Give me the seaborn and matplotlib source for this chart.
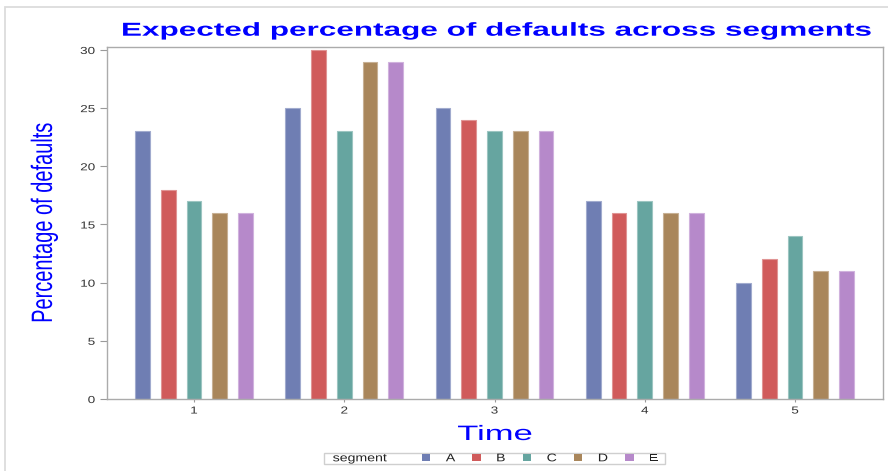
import matplotlib
matplotlib.use("Agg")
import matplotlib.pyplot as plt
import numpy as np
import pandas as pd
import seaborn as sns
from matplotlib.patheffects import AbstractPathEffect
from matplotlib.transforms import Affine2D
from matplotlib.offsetbox import HPacker, DrawingArea
from matplotlib.patches import Rectangle
from matplotlib.colors import to_rgb

# ---- data -------------------------------------------------------------
time_points = ["1", "2", "3", "4", "5"]
segments = ["A", "B", "C", "D", "E"]
seg_a = [23, 25, 25, 17, 10]
seg_b = [18, 30, 24, 16, 12]
seg_c = [17, 23, 23, 17, 14]
seg_d = [16, 29, 23, 16, 11]
seg_e = [16, 29, 23, 16, 11]
segment_colors = ["#6F7EB3", "#D05B5B", "#66A5A0", "#A9865B", "#B689CA"]
y_ticks = [0, 5, 10, 15, 20, 25, 30]

df = pd.DataFrame({
    "Time": np.tile(time_points, len(segments)),
    "segment": np.repeat(segments, len(time_points)),
    "pct": seg_a + seg_b + seg_c + seg_d + seg_e,
})


class HStretch(AbstractPathEffect):
    """Draw text widened/narrowed horizontally about an anchor."""

    def __init__(self, factor, anchor="center"):
        super().__init__()
        self.factor = factor
        self.anchor = anchor

    def draw_path(self, renderer, gc, tpath, affine, rgbFace=None):
        ext = tpath.get_extents(affine)
        if self.anchor == "left":
            x0 = ext.x0
        elif self.anchor == "right":
            x0 = ext.x1
        else:
            x0 = 0.5 * (ext.x0 + ext.x1)
        widen = Affine2D().translate(-x0, 0).scale(self.factor, 1).translate(x0, 0)
        renderer.draw_path(gc, tpath, affine + widen, rgbFace)


plt.rcParams["font.family"] = ["Liberation Sans", "DejaVu Sans"]

W, H = 888, 471
fig = plt.figure(figsize=(W / 100, H / 100), dpi=100)
ax = fig.add_axes([107 / W, 1 - 399 / H, 775.5 / W, 352.3 / H])

sns.barplot(data=df, x="Time", y="pct", hue="segment", order=time_points,
            hue_order=segments, palette=segment_colors, saturation=1,
            width=0.857, gap=0.43, errorbar=None, linewidth=0.8, ax=ax)

for bar in ax.patches:
    fc = np.array(to_rgb(bar.get_facecolor()))
    bar.set_edgecolor(tuple(fc + (1 - fc) * 0.35))

ax.set_xlim(-0.579, 4.582)
ax.set_ylim(0, 30.28)
ax.set_yticks(y_ticks)

for side in ["left", "right", "top", "bottom"]:
    ax.spines[side].set_color("#ABABAB")
    ax.spines[side].set_linewidth(1.0)

ax.tick_params(axis="y", length=5, width=0.8, color="#9A9A9A", pad=3.6,
               labelsize=7.3, labelcolor="#333333")
ax.tick_params(axis="x", length=2.5, width=0.8, color="#9A9A9A", pad=2.2,
               labelsize=7.3, labelcolor="#333333")
for lab in ax.get_yticklabels():
    lab.set_path_effects([HStretch(1.33, "right")])
for lab in ax.get_xticklabels():
    lab.set_path_effects([HStretch(1.33, "center")])

# axis titles
ax.set_xlabel("Time", fontsize=15, color="#0000FF")
ax.xaxis.label.set_va("baseline")
ax.xaxis.set_label_coords(0.5003, -41 / 352.3)
ax.xaxis.label.set_path_effects([HStretch(1.66, "center")])

ax.set_ylabel("Percentage of defaults", fontsize=14.4, color="#0000FF")
ylab = ax.yaxis.label
ylab.set_rotation_mode("default")
ylab.set_ha("center")
ylab.set_va("center")
ax.yaxis.set_label_coords((44 - 107) / 775.5, 0.5)
ylab.set_path_effects([HStretch(1.47, "center")])

title = ax.set_title("Expected percentage of defaults across segments",
                     fontsize=13.5, fontweight="bold", color="#0000FF",
                     x=(496 - 107) / 775.5, y=1 + 11 / 352.3, pad=0,
                     va="baseline")
title.set_path_effects([HStretch(1.68, "center")])

# legend strip along the bottom
leg0 = ax.get_legend()
handles = leg0.legend_handles
labels = [t.get_text() for t in leg0.get_texts()]
leg0.remove()

px = 0.72  # pixels -> points at 100 dpi
leg = fig.legend(handles, labels, ncol=5, loc="center",
                 bbox_to_anchor=(494.5 / W, 1 - 458.3 / H), fontsize=8,
                 frameon=True, fancybox=False, edgecolor="#CFCFCF",
                 framealpha=1, handlelength=0.75, handleheight=0.5,
                 handletextpad=1.4, columnspacing=1.73, borderpad=0.1,
                 title="segment", title_fontsize=8)
leg.get_frame().set_linewidth(1.0)
leg.get_title().set_color("#222222")
leg.get_title().set_path_effects([HStretch(1.27, "left")])
for t in leg.get_texts():
    t.set_color("#222222")
    t.set_path_effects([HStretch(1.27, "left")])

# lay the legend title and its entries out on one row
row = HPacker(pad=0.5 * px, sep=0, align="center",
              children=[DrawingArea(8.5 * px, 1), leg._legend_title_box,
                        DrawingArea(46.3 * px, 1), leg._legend_handle_box,
                        DrawingArea(8.2 * px, 1)])
row.set_figure(fig)
row.axes = leg.axes
row.set_offset(leg._findoffset)
leg._legend_box = row

# outer light frame
fig.patches.append(Rectangle((5 / W, -0.1), 2, 1 - 7 / H + 0.1,
                             transform=fig.transFigure, fill=False,
                             edgecolor="#DCDCDC", linewidth=1.3))

fig.savefig("out.png", dpi=100)
